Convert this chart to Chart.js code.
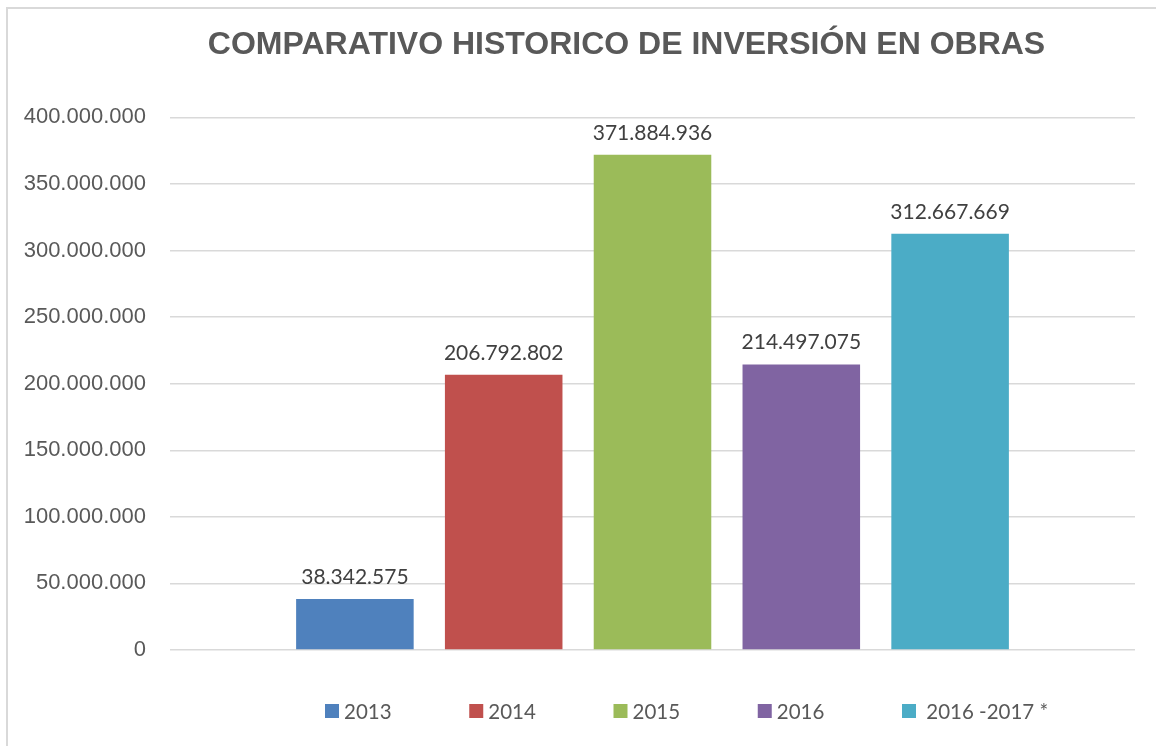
<!DOCTYPE html>
<html>
<head>
<meta charset="utf-8">
<style>
  html, body { margin: 0; padding: 0; background: #ffffff; overflow: hidden; }
  canvas { display: block; }
</style>
<script src="https://cdn.jsdelivr.net/npm/chart.js@4.4.1/dist/chart.umd.min.js"></script>
</head>
<body>
<canvas id="c" width="1156" height="746"></canvas>
<script>
// ---- data ----
const titleText = 'COMPARATIVO HISTORICO DE INVERSIÓN EN OBRAS';
const categories = [''];
const seriesLabels = ['2013', '2014', '2015', '2016', ' 2016 -2017 *'];
const seriesValues = [38342575, 206792802, 371884936, 214497075, 312667669];
const seriesColors = ['#4F81BD', '#C0504D', '#9BBB59', '#8064A2', '#4BACC6'];
const yMin = 0;
const yMax = 400000000;
const yStep = 50000000;

function fmt(v) {
  return String(Math.round(v)).replace(/\B(?=(\d{3})+(?!\d))/g, '.');
}

const datasets = seriesLabels.map((lab, i) => ({
  label: lab,
  data: [seriesValues[i]],
  backgroundColor: seriesColors[i],
  borderWidth: 0,
  categoryPercentage: 0.771,
  barPercentage: 0.79
}));

const borderPlugin = {
  id: 'frame',
  beforeDraw(chart) {
    const ctx = chart.ctx;
    ctx.save();
    ctx.strokeStyle = '#d9d9d9';
    ctx.lineWidth = 2;
    ctx.beginPath();
    ctx.moveTo(7, 800);
    ctx.lineTo(7, 8);
    ctx.lineTo(1200, 8);
    ctx.stroke();
    ctx.restore();
  }
};

// Excel centres the title over a slightly different span than the canvas
const titleShift = {
  id: 'titleShift',
  afterLayout(chart, args, opts) {
    const t = chart.titleBlock;
    if (t) { t.left += opts.dx * 2; }
  }
};

const valueLabels = {
  id: 'valueLabels',
  afterDatasetsDraw(chart) {
    const ctx = chart.ctx;
    ctx.save();
    ctx.font = '21px Lato, "Open Sans", sans-serif';
    ctx.fillStyle = '#404040';
    ctx.textAlign = 'center';
    ctx.textBaseline = 'alphabetic';
    chart.data.datasets.forEach((ds, i) => {
      const meta = chart.getDatasetMeta(i);
      meta.data.forEach((bar, j) => {
        ctx.fillText(fmt(ds.data[j]), bar.x, bar.y - 15);
      });
    });
    ctx.restore();
  }
};

const customLegend = {
  id: 'customLegend',
  afterDraw(chart, args, opts) {
    const ctx = chart.ctx;
    ctx.save();
    ctx.font = '20.5px Lato, "Open Sans", sans-serif';
    ctx.textBaseline = 'middle';
    ctx.textAlign = 'left';
    chart.data.datasets.forEach((ds, i) => {
      const x = opts.x0 + i * opts.slot;
      ctx.fillStyle = ds.backgroundColor;
      ctx.fillRect(x, opts.y - opts.box / 2, opts.box, opts.box);
      ctx.fillStyle = '#595959';
      ctx.fillText(ds.label, x + opts.box + opts.gap, opts.y + 1);
    });
    ctx.restore();
  }
};

new Chart(document.getElementById('c'), {
  type: 'bar',
  data: { labels: categories, datasets: datasets },
  options: {
    responsive: false,
    animation: false,
    layout: { padding: { left: 22, right: 21, top: 0, bottom: 96 } },
    plugins: {
      legend: { display: false },
      tooltip: { enabled: false },
      title: {
        display: true,
        text: titleText,
        color: '#595959',
        font: { family: '"Liberation Sans", Arial, sans-serif', size: 32, weight: 'bold', lineHeight: 1.2 },
        padding: { top: 26, bottom: 53 }
      },
      titleShift: { dx: 48 },
      customLegend: { x0: 325, slot: 144.25, y: 711, box: 14, gap: 5 }
    },
    scales: {
      x: { display: false },
      y: {
        min: yMin,
        max: yMax,
        border: { display: false },
        grid: { color: '#d9d9d9', lineWidth: 1.5, drawTicks: false },
        ticks: {
          stepSize: yStep,
          padding: 24,
          color: '#595959',
          font: { family: '"Liberation Sans", Arial, sans-serif', size: 22 },
          callback: (v) => fmt(v)
        },
        afterFit(scale) { scale.width = 148; }
      }
    }
  },
  plugins: [borderPlugin, titleShift, valueLabels, customLegend]
});
</script>
</body>
</html>
